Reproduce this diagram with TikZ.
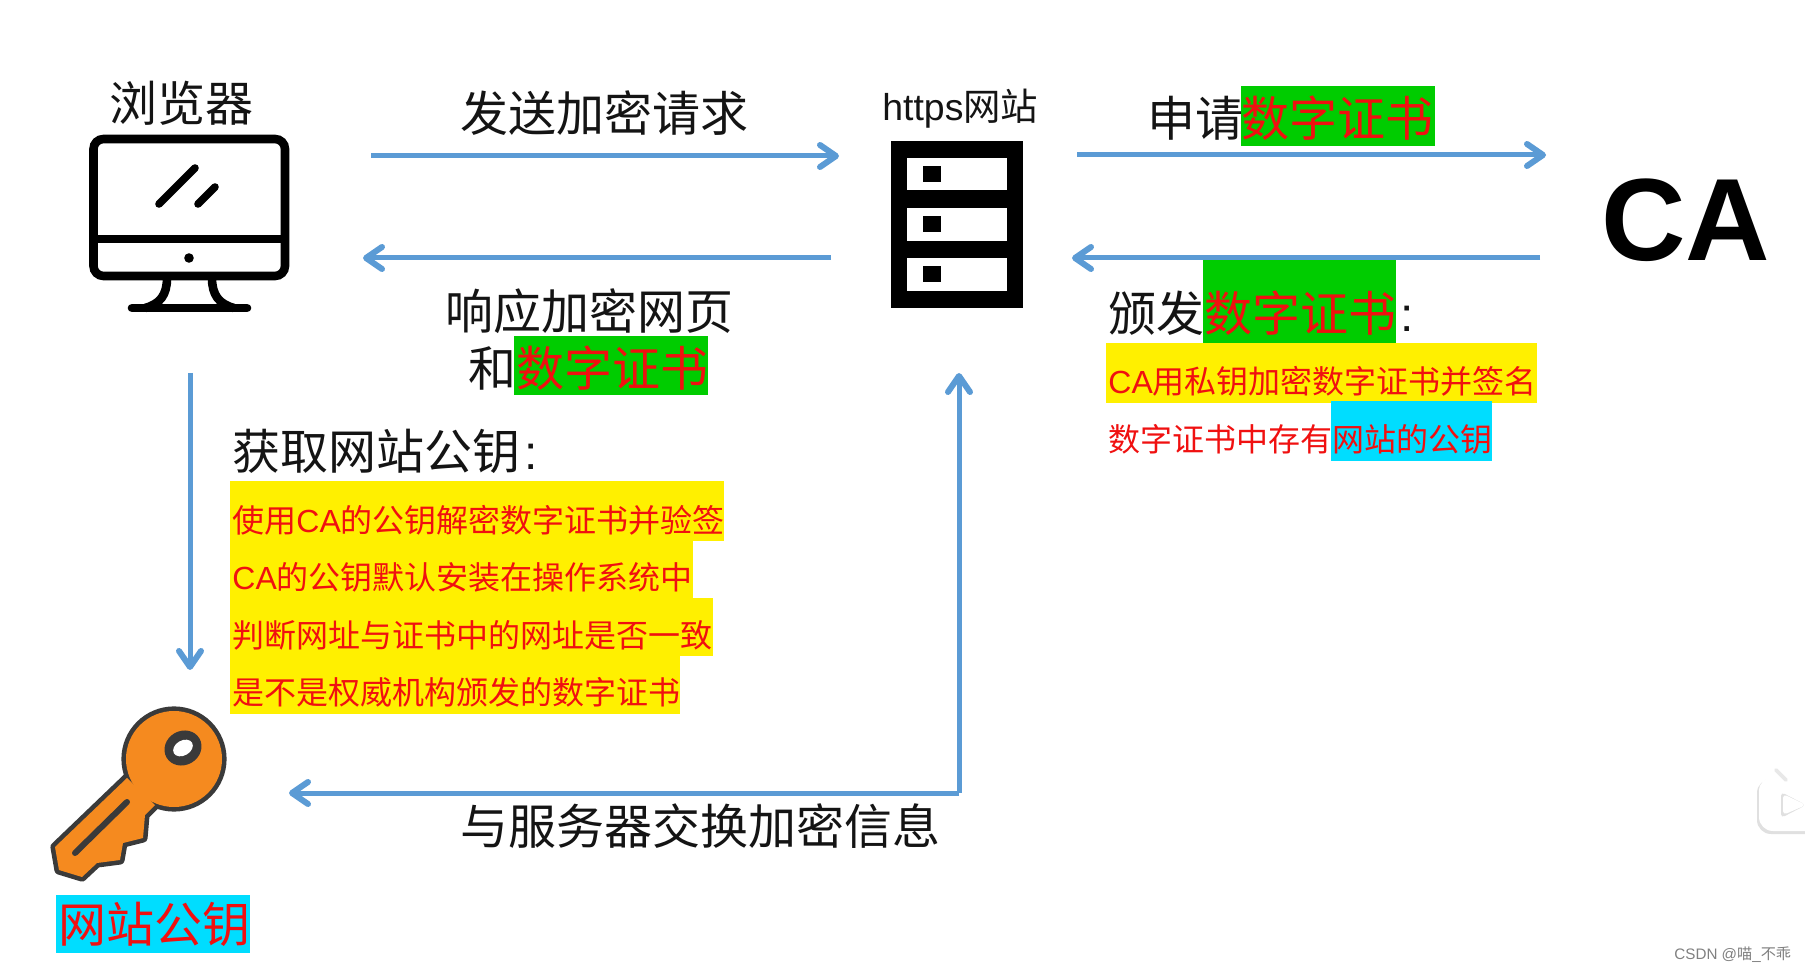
\documentclass[tikz,border=0pt]{standalone}
\usepackage{fontspec}
\usetikzlibrary{arrows.meta}
\setmainfont{Liberation Sans}
\newfontfamily\cjk{Noto Sans CJK SC}
\definecolor{arrowblue}{HTML}{5B9BD5}
\definecolor{hlgreen}{HTML}{00CC00}
\definecolor{hlcyan}{HTML}{00DDFF}
\definecolor{hlyellow}{HTML}{FFF000}
\definecolor{txtred}{HTML}{F01010}
\definecolor{keydark}{HTML}{3A3A3A}
\definecolor{keyorange}{HTML}{F58A1F}
\tikzset{
 x=0.5pt,y=-0.5pt,
 flow/.style={draw=arrowblue,line width=2.5pt,-{Straight Barb[length=8pt,width=11pt,line width=3pt,round]}},
 big/.style={font=\fontsize{24}{24}\selectfont\cjk,text height=21.12pt,text depth=2.88pt,inner sep=0pt,anchor=west,text=black!92},
 bigred/.style={big,text=txtred},
 small/.style={font=\fontsize{16}{16}\selectfont\cjk,text height=14.08pt,text depth=1.92pt,inner sep=0pt,anchor=west,text=txtred},
}
\newcommand{\LL}[1]{{\rmfamily #1}}
\begin{document}
\begin{tikzpicture}
\useasboundingbox (0,0) rectangle (1805,972);
\fill[white] (0,0) rectangle (1805,972);
% highlights
\fill[hlgreen] (1241,86) rectangle (1435,146);
\fill[hlgreen] (1203,260) rectangle (1396,343);
\fill[hlyellow] (1106,343) rectangle (1537,403);
\fill[hlcyan] (1331,401) rectangle (1492,461);
\fill[hlgreen] (514,336) rectangle (708,395);
\fill[hlyellow] (230,481) rectangle (724,541);
\fill[hlyellow] (230,541) rectangle (693,598);
\fill[hlyellow] (230,598) rectangle (713,656);
\fill[hlyellow] (230,656) rectangle (680,714);
\fill[hlcyan] (56,895) rectangle (250,953);
% computer
\draw[line width=4.3pt,rounded corners=5pt] (93.5,139) rectangle (285,276);
\draw[line width=4.3pt] (93.5,239) -- (285,239);
\draw[line width=3.8pt,line cap=round] (159,204) -- (195,168);
\draw[line width=3.8pt,line cap=round] (198,204) -- (215,187);
\fill (189,258) circle (4.8);
\draw[line width=4.3pt,line cap=round] (132,308) -- (247,308);
\draw[line width=4.3pt] (167,278) .. controls (167,295) and (160,304) .. (145,308);
\draw[line width=4.3pt] (212,278) .. controls (212,295) and (219,304) .. (234,308);
% server
\fill (891,141) rectangle (1023,308);
\fill[white] (907,158) rectangle (1007,190);
\fill[white] (907,208) rectangle (1007,241);
\fill[white] (907,258) rectangle (1007,291);
\fill (923,166) rectangle (941,182);
\fill (923,216) rectangle (941,232);
\fill (923,266) rectangle (941,282);
% key
\draw[keydark,line width=4.6pt,line join=round] (174,759) circle (48);
\draw[keydark,line width=4.6pt,line join=round] (127,778) -- (55,847) -- (59,870) -- (82,877) -- (97,863) -- (120,860) -- (123,843) -- (143,838) -- (145,815) -- (155,805) -- cycle;
\fill[keyorange] (174,759) circle (48);
\fill[keyorange] (127,778) -- (55,847) -- (59,870) -- (82,877) -- (97,863) -- (120,860) -- (123,843) -- (143,838) -- (145,815) -- (155,805) -- cycle;
\draw[keydark,line width=3pt,line cap=round] (127,802) -- (75,853);
\fill[keydark,rotate around={30:(183,748)}] (183,748) ellipse (19 and 17);
\fill[white,rotate around={30:(183,748)}] (183,748) ellipse (10.5 and 7.5);
% video icon
\begin{scope}
\clip (0,0) rectangle (1805,972);
\fill[black!12,rounded corners=7pt] (1757,779) rectangle (1830,834);
\fill[white,rounded corners=7pt] (1759,777) rectangle (1830,831);
\draw[black!9,line width=1.8pt,line cap=round] (1776,770) -- (1786,780);
\fill[black!12,rounded corners=2pt] (1781,792) -- (1781,818) -- (1806,805) -- cycle;
\fill[white,rounded corners=2pt] (1783,794) -- (1783,815) -- (1806,805) -- cycle;
\end{scope}
% labels
\node[big] (browser) at (109,103) {浏览器};
\node[big] (send) at (460,113) {发送加密请求};
\node[inner sep=0pt,anchor=west,font=\fontsize{18.7}{18.7}\selectfont,text=black!92] (site) at (882,109) {https\cjk 网站};
\node[big] (apply) at (1147,118) {申请\hspace{-1pt}\textcolor{txtred}{数字证书}};
\node[anchor=center,inner sep=0pt,font=\fontsize{58.5}{58.5}\selectfont\bfseries] (ca) at (1686,220) {CA};
\node[big] (issue) at (1108,313) {颁发\textcolor{txtred}{数字证书}\hspace{2pt}\LL{:}};
\node[small] (r1) at (1108,381) {\LL{CA}用私钥加密数字证书并签名};
\node[small] (r2) at (1108,439) {数字证书中存有网站的公钥};
\node[big] (resp1) at (445,311) {响应加密网页};
\node[big] (resp2) at (468,368) {和\textcolor{txtred}{数字证书}};
\node[big] (get) at (232,451) {获取网站公钥\hspace{2pt}\LL{:}};
\node[small] (l1) at (232,520) {使用\LL{CA}的公钥解密数字证书并验签};
\node[small] (l2) at (232,577) {\LL{CA}的公钥默认安装在操作系统中};
\node[small] (l3) at (232,635) {判断网址与证书中的网址是否一致};
\node[small] (l4) at (232,692) {是不是权威机构颁发的数字证书};
\node[big] (swap) at (460,826) {与服务器交换加密信息};
\node[bigred] (pub) at (58,924) {网站公钥};
\node[anchor=west,inner sep=0pt,font=\fontsize{7.6}{7.6}\selectfont,text=black!50] (mark) at (1674,955) {CSDN @\cjk 喵\rmfamily \_\cjk 不乖};
% connectors
\coordinate (a1s) at (371,156); \coordinate (a1e) at (839,156);
\coordinate (a2s) at (831,258); \coordinate (a2e) at (363,258);
\coordinate (a3s) at (1077,155); \coordinate (a3e) at (1546,155);
\coordinate (a4s) at (1540,258); \coordinate (a4e) at (1072,258);
\coordinate (a5s) at (190,373); \coordinate (a5e) at (190,670);
\coordinate (a6c) at (959,793); \coordinate (a6u) at (959,373); \coordinate (a6l) at (289,793);
\draw[flow] (a1s) -- (a1e);
\draw[flow] (a2s) -- (a2e);
\draw[flow] (a3s) -- (a3e);
\draw[flow] (a4s) -- (a4e);
\draw[flow] (a5s) -- (a5e);
\draw[flow] (a6c) -- (a6u);
\draw[flow] (a6c) -- (a6l);
\end{tikzpicture}
\end{document}
